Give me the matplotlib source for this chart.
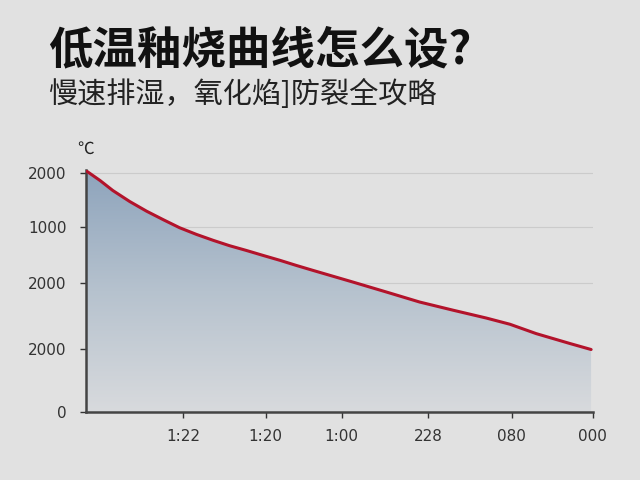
import numpy as np
import matplotlib
matplotlib.use("Agg")
import matplotlib.pyplot as plt
from matplotlib.colors import LinearSegmentedColormap

plt.rcParams['font.family'] = ['Noto Sans CJK SC', 'DejaVu Sans']

# firing curve (minutes, temperature-ish units)
minutes = [0, 17, 32, 52, 72, 92, 111, 131, 151, 170, 190, 210, 230, 249, 269,
           316, 356, 395, 435, 474, 502, 533, 573, 598]
temp = [2017, 1933, 1850, 1758, 1677, 1605, 1539, 1483, 1433, 1389, 1349, 1307,
        1266, 1224, 1182, 1085, 1001, 918, 849, 784, 732, 654, 571, 521]

# ticks (labels are as garbled as in the source picture)
ytick_pos = [0, 529, 1076, 1544, 2000]
ytick_lab = ["0", "2000", "2000", "1000", "2000"]
xtick_pos = [115, 213, 303, 405, 504, 600]
xtick_lab = ["1:22", "1:20", "1:00", "228", "080", "000"]

title = "低温釉烧曲线怎么设?"
subtitle = "慢速排湿，氧化焰]防裂全攻略"

bg = "#e1e1e1"
fig = plt.figure(figsize=(6.4, 4.8), dpi=100, facecolor=bg)
ax = fig.add_axes([0.134, 0.142, 0.7922, 0.5035], facecolor=bg)

ax.set_xlim(0, 600)
ax.set_ylim(0, 2020)

# gradient fill under the curve
cmap = LinearSegmentedColormap.from_list("fade", ["#d8dadd", "#b6c2ce", "#8ea4bc"])
grad = np.linspace(0, 1, 256).reshape(-1, 1)
img = ax.imshow(grad, cmap=cmap, aspect="auto", origin="lower",
                extent=[0, max(minutes), 0, max(temp)], zorder=1)
poly = ax.fill_between(minutes, temp, 0, color="none")
img.set_clip_path(poly.get_paths()[0], transform=ax.transData)

ax.plot(minutes, temp, color="#b3132b", lw=2.2, zorder=3,
        solid_capstyle="round", solid_joinstyle="round")

ax.set_yticks(ytick_pos)
ax.set_yticklabels(ytick_lab)
ax.set_xticks(xtick_pos)
ax.set_xticklabels(xtick_lab)
ax.tick_params(axis="both", labelsize=11, colors="#333333", length=4, width=1)
ax.tick_params(axis="y", pad=10)
ax.tick_params(axis="x", pad=8)
for lab in ax.get_xticklabels() + ax.get_yticklabels():
    lab.set_family("DejaVu Sans")
ax.grid(axis="y", color="#cbcbcb", lw=0.8, zorder=0)
ax.set_axisbelow(True)

for s in ["top", "right"]:
    ax.spines[s].set_visible(False)
for s in ["left", "bottom"]:
    ax.spines[s].set_color("#444444")
    ax.spines[s].set_linewidth(1.8)

ax.text(0, 2120, "℃", ha="center", va="bottom", fontsize=12, color="#222222")

fig.text(0.075, 0.896, title, fontsize=32, fontweight="black", color="#111111",
         va="center", ha="left")
fig.text(0.075, 0.802, subtitle, fontsize=21, color="#222222", va="center", ha="left")

fig.savefig("out.png", dpi=100, facecolor=bg)
